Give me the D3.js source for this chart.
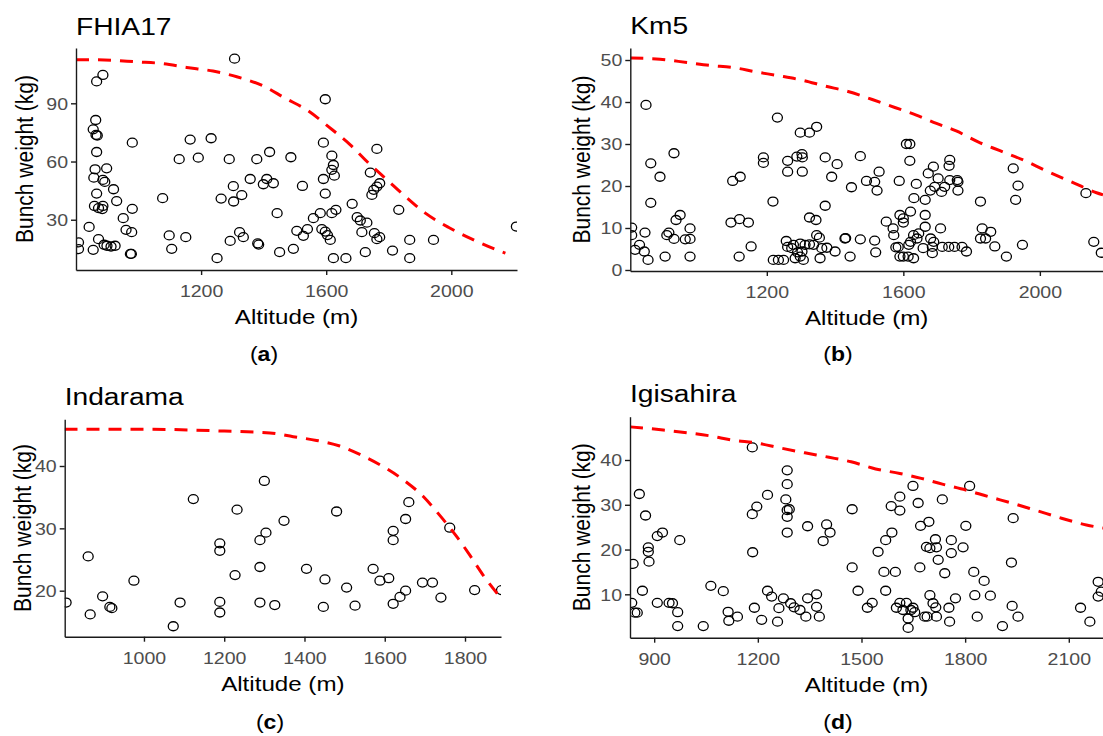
<!DOCTYPE html>
<html><head>
<meta charset="utf-8">
<script src="https://cdnjs.cloudflare.com/ajax/libs/d3/7.8.5/d3.min.js"></script>
<style>
  body { margin: 0; background: #fff; }
  svg text { font-family: "Liberation Sans", Arial, sans-serif; fill: #000; }
  .tick text { fill: #4d4d4d; font-size: 17px; }
  .tick line, .domain { stroke: #1a1a1a; stroke-width: 1.4px; }
</style>
</head><body>
<svg id="chart" width="1103" height="736"></svg>
<script>
// [altitude (m), bunch weight (kg)]
var fhia17Points = [[1307,113.0],[886,104.6],[866,101.3],[863,81.4],[855,76.6],[864,73.7],[868,73.4],[866,64.9],[861,56.0],[898,56.5],[857,51.7],[886,50.5],[892,49.5],[866,43.5],[920,45.7],[859,37.1],[872,36.0],[886,37.1],[884,35.5],[930,39.6],[980,69.7],[980,35.6],[951,30.8],[960,24.8],[978,23.6],[842,26.3],[808,18.3],[808,14.9],[855,14.5],[872,20.0],[890,17.1],[899,16.6],[912,16.2],[925,16.6],[974,12.4],[977,12.4],[1077,41.1],[1098,21.9],[1106,15.0],[1151,21.0],[1130,61.2],[1165,71.3],[1191,62.0],[1232,72.0],[1251,10.2],[1264,40.9],[1290,61.2],[1303,47.3],[1304,39.4],[1330,42.7],[1293,19.1],[1323,23.6],[1335,21.0],[1357,51.0],[1378,61.2],[1419,64.9],[1399,48.3],[1410,51.0],[1431,48.8],[1381,17.8],[1384,17.2],[1451,13.3],[1443,33.4],[1487,62.2],[1495,15.0],[1506,24.3],[1524,47.4],[1527,21.7],[1540,25.2],[1559,30.8],[1581,33.4],[1591,69.7],[1597,92.1],[1591,51.0],[1597,43.5],[1586,25.2],[1597,23.9],[1604,22.1],[1613,19.6],[1618,33.4],[1631,35.1],[1618,63.0],[1623,58.2],[1618,55.7],[1626,52.7],[1623,10.2],[1663,10.2],[1683,38.2],[1699,31.3],[1709,29.6],[1730,28.5],[1714,23.6],[1725,13.3],[1762,66.5],[1741,54.3],[1752,45.4],[1762,47.1],[1771,48.8],[1746,42.8],[1754,23.1],[1762,20.0],[1771,21.0],[1812,14.1],[1832,35.1],[1867,19.6],[1867,10.2],[1943,19.6],[2208,26.5]];
var fhia17Curve = [[800,112.4],[870,112.4],[1000,111.3],[1069,110.6],[1154,108.5],[1238,106.6],[1314,103.7],[1399,98.9],[1469,92.6],[1538,86.6],[1607,78.0],[1677,68.6],[1736,59.1],[1795,50.5],[1853,42.0],[1917,33.4],[1992,26.0],[2066,20.0],[2151,14.1],[2173,12.8]];

var km5Points = [[804,10.1],[804,8.3],[814,4.8],[827,6.0],[841,4.4],[852,2.4],[846,39.3],[843,8.9],[860,25.4],[860,16.0],[887,22.2],[902,3.2],[907,8.3],[913,8.9],[928,27.8],[928,7.4],[934,11.9],[946,13.1],[961,7.3],[975,9.9],[975,7.4],[975,3.2],[1095,11.3],[1100,21.2],[1122,22.2],[1120,12.1],[1119,3.2],[1146,11.3],[1154,5.6],[1190,26.8],[1190,25.5],[1218,16.3],[1231,36.3],[1219,2.4],[1234,2.4],[1249,2.4],[1257,6.9],[1261,5.5],[1273,5.2],[1278,6.0],[1261,26.0],[1261,23.4],[1298,32.7],[1325,32.7],[1346,34.1],[1288,27.0],[1303,27.6],[1304,26.8],[1304,23.4],[1325,12.5],[1344,11.9],[1371,26.8],[1390,22.2],[1371,15.3],[1346,8.3],[1354,7.7],[1298,6.3],[1312,6.0],[1325,6.1],[1337,6.0],[1361,5.2],[1376,5.3],[1290,4.2],[1303,4.4],[1298,3.2],[1283,2.8],[1307,2.4],[1356,2.8],[1400,4.4],[1406,25.2],[1429,7.5],[1431,7.6],[1444,3.2],[1448,19.7],[1474,27.1],[1474,7.3],[1492,21.2],[1516,21.0],[1523,18.9],[1529,23.4],[1516,7.0],[1519,4.2],[1550,11.5],[1570,9.9],[1572,8.3],[1588,21.2],[1590,13.1],[1600,12.3],[1621,13.9],[1600,11.3],[1578,5.4],[1585,5.5],[1590,3.2],[1600,3.2],[1614,3.2],[1630,2.8],[1609,30.0],[1619,30.0],[1619,26.0],[1630,8.3],[1645,8.7],[1640,7.5],[1621,6.7],[1616,6.0],[1638,20.5],[1631,17.1],[1664,16.7],[1664,13.1],[1664,10.3],[1658,5.2],[1673,23.0],[1688,24.6],[1702,21.8],[1692,19.8],[1679,18.9],[1712,18.6],[1721,19.8],[1680,7.5],[1689,6.7],[1685,5.5],[1685,4.0],[1709,9.9],[1714,5.5],[1733,5.5],[1750,5.5],[1772,5.5],[1785,4.4],[1736,26.2],[1734,24.8],[1736,21.4],[1758,21.4],[1760,21.0],[1760,18.9],[1826,16.3],[1831,9.9],[1826,7.5],[1841,7.5],[1856,9.1],[1868,5.6],[1902,3.2],[1922,24.2],[1936,20.1],[1929,16.7],[1949,6.0],[2135,18.3],[2158,6.7],[2180,4.1]];
var km5Curve = [[800,50.5],[887,50.2],[966,49.4],[1034,48.7],[1102,48.2],[1166,47.2],[1239,46.2],[1303,45.2],[1370,43.8],[1438,42.5],[1509,40.6],[1575,38.7],[1638,36.9],[1697,34.9],[1755,33.1],[1819,30.5],[1883,28.4],[1951,26.2],[2019,23.6],[2092,21.0],[2166,18.4],[2185,17.9]];

var indaramaPoints = [[806,18.1],[861,25.5],[866,16.2],[897,19.1],[915,17.4],[920,17.2],[975,21.6],[1073,14.3],[1090,18.1],[1123,34.7],[1189,27.6],[1189,26.4],[1189,18.2],[1189,16.5],[1227,22.5],[1232,33.0],[1289,23.8],[1289,28.1],[1304,29.3],[1300,37.6],[1289,18.1],[1326,17.7],[1349,31.2],[1405,23.5],[1451,21.8],[1447,17.4],[1480,32.7],[1505,20.5],[1526,17.6],[1571,23.5],[1588,21.6],[1610,22.0],[1621,29.6],[1621,28.1],[1621,17.9],[1638,19.0],[1652,20.0],[1652,31.5],[1660,34.2],[1694,21.3],[1719,21.3],[1740,18.9],[1762,30.1],[1824,20.1],[1891,20.1]];
var indaramaCurve = [[802,45.9],[1000,45.9],[1200,45.6],[1314,45.3],[1372,44.7],[1430,44.1],[1488,43.2],[1546,41.6],[1596,39.9],[1646,37.8],[1696,35.1],[1733,32.4],[1779,28.7],[1812,25.7],[1845,22.5],[1887,19.0]];

var igisahiraPoints = [[839,16.8],[835,8.1],[844,5.9],[851,5.9],[857,32.4],[875,27.6],[866,10.8],[883,20.5],[883,19.5],[885,17.3],[909,23.0],[924,23.8],[909,8.1],[943,8.1],[953,8.0],[974,22.1],[968,6.0],[968,2.9],[1042,2.9],[1064,11.9],[1100,10.7],[1114,6.1],[1116,4.1],[1141,5.0],[1184,42.8],[1184,27.9],[1197,29.6],[1185,19.4],[1190,7.0],[1211,4.3],[1228,32.2],[1228,10.8],[1240,9.5],[1257,3.9],[1261,6.9],[1274,9.1],[1285,37.7],[1285,34.6],[1281,31.2],[1285,28.8],[1285,27.3],[1291,29.0],[1285,23.8],[1295,8.0],[1305,7.1],[1322,6.5],[1339,5.0],[1344,25.2],[1344,9.1],[1370,10.0],[1370,7.2],[1378,5.0],[1389,21.9],[1399,25.6],[1409,23.8],[1473,29.0],[1473,16.0],[1490,10.8],[1517,7.0],[1531,8.1],[1548,19.5],[1570,22.1],[1588,23.8],[1565,15.0],[1570,10.8],[1586,29.7],[1611,31.8],[1611,28.7],[1598,15.0],[1601,7.0],[1611,8.1],[1620,6.5],[1630,8.1],[1635,4.6],[1643,6.5],[1649,7.0],[1654,6.0],[1635,2.5],[1649,34.2],[1664,30.4],[1669,16.0],[1671,25.3],[1695,26.2],[1688,20.6],[1714,22.3],[1698,20.3],[1717,20.5],[1722,17.7],[1741,14.7],[1734,31.2],[1698,9.8],[1707,8.0],[1715,7.1],[1683,5.0],[1690,5.0],[1717,5.0],[1760,22.1],[1760,19.2],[1753,7.0],[1755,3.9],[1772,9.1],[1794,20.5],[1802,25.3],[1813,34.2],[1825,15.0],[1828,9.8],[1835,5.0],[1855,13.0],[1873,9.7],[1908,2.9],[1934,17.1],[1939,27.0],[1936,7.4],[1953,5.0],[2134,7.0],[2161,3.9],[2185,12.8],[2185,9.5],[2194,10.6]];
var igisahiraCurve = [[830,47.4],[926,46.7],[994,46.1],[1061,45.4],[1129,44.4],[1197,43.8],[1264,42.7],[1336,41.6],[1406,40.6],[1470,39.6],[1541,38.0],[1611,37.0],[1673,35.9],[1734,34.6],[1802,33.3],[1868,31.8],[1939,30.3],[2011,28.6],[2079,27.0],[2151,25.5],[2199,24.8]];

var ticksA = { x: [1200, 1600, 2000], y: [30, 60, 90] };
var ticksB = { x: [1200, 1600, 2000], y: [0, 10, 20, 30, 40, 50] };
var ticksC = { x: [1000, 1200, 1400, 1600, 1800], y: [20, 30, 40] };
var ticksD = { x: [900, 1200, 1500, 1800, 2100], y: [10, 20, 30, 40] };

var xTitle = "Altitude (m)", yTitle = "Bunch weight (kg)";

// the source figure was stretched sideways, so text is widened the same way
var SX = 1.15;

var panels = [
  { name: "FHIA17", letter: "a", pts: fhia17Points, curve: fhia17Curve, ticks: ticksA,
    left: 76, right: 517, top: 48, bottom: 270, xd: [800, 2210], yd: [4.1, 118.5],
    titleY: 34.5, yTitleX: 33, capX: 264, capY: 361 },
  { name: "Km5", letter: "b", pts: km5Points, curve: km5Curve, ticks: ticksB,
    left: 630.3, right: 1103, top: 48, bottom: 271, xd: [800, 2185], yd: [-0.24, 52.86],
    titleY: 33.5, yTitleX: 590, capX: 838, capY: 361 },
  { name: "Indarama", letter: "c", pts: indaramaPoints, curve: indaramaCurve, ticks: ticksC,
    left: 64.7, right: 501, top: 419.3, bottom: 636.7, xd: [802.5, 1889.7], yd: [12.62, 47.49],
    titleY: 405, yTitleX: 31, capX: 270, capY: 729 },
  { name: "Igisahira", letter: "d", pts: igisahiraPoints, curve: igisahiraCurve, ticks: ticksD,
    left: 630, right: 1103, top: 416.7, bottom: 637.7, xd: [830, 2199], yd: [0.31, 49.67],
    titleY: 402, yTitleX: 590, capX: 838, capY: 729 }
];

var svg = d3.select("#chart");

function label(parent, x, y, str, size, anchor, rot) {
  return parent.append("text")
    .attr("transform", "translate(" + x + "," + y + ") scale(" + SX + ",1)" + (rot ? " rotate(-90)" : ""))
    .attr("text-anchor", anchor)
    .style("font-size", size + "px")
    .text(str);
}

panels.forEach(function(p, i) {
  var x = d3.scaleLinear().domain(p.xd).range([p.left, p.right]);
  var y = d3.scaleLinear().domain(p.yd).range([p.bottom, p.top]);
  var g = svg.append("g");

  g.append("clipPath").attr("id", "clip" + i)
    .append("rect").attr("x", p.left).attr("y", p.top)
    .attr("width", p.right - p.left).attr("height", p.bottom - p.top);
  var plot = g.append("g").attr("clip-path", "url(#clip" + i + ")");

  plot.selectAll("ellipse").data(p.pts).enter().append("ellipse")
    .attr("cx", function(d) { return x(d[0]); })
    .attr("cy", function(d) { return y(d[1]); })
    .attr("rx", 5.0).attr("ry", 4.5)
    .attr("fill", "none").attr("stroke", "#000").attr("stroke-width", 1.3);

  var line = d3.line()
    .x(function(d) { return x(d[0]); })
    .y(function(d) { return y(d[1]); })
    .curve(d3.curveMonotoneX);
  plot.append("path").datum(p.curve).attr("d", line)
    .attr("fill", "none").attr("stroke", "#ff0000").attr("stroke-width", 3)
    .attr("stroke-dasharray", "13,9");

  var xa = g.append("g").attr("transform", "translate(0," + p.bottom + ")")
    .call(d3.axisBottom(x).tickValues(p.ticks.x).tickSize(5).tickSizeOuter(0).tickFormat(d3.format("d")));
  xa.selectAll(".tick text").attr("y", 27).attr("dy", null)
    .attr("transform", "scale(" + SX + ",1)");

  var ya = g.append("g").attr("transform", "translate(" + p.left + ",0)")
    .call(d3.axisLeft(y).tickValues(p.ticks.y).tickSize(5).tickSizeOuter(0).tickFormat(d3.format("d")));
  ya.selectAll(".tick text").attr("x", -8 / SX).attr("dy", "0.35em")
    .attr("transform", "scale(" + SX + ",1)");
  [xa, ya].forEach(function(a) { a.attr("font-family", null).attr("font-size", null); });

  label(g, p.left, p.titleY, p.name, 24.5, "start");
  label(g, (p.left + Math.min(p.right, 1103)) / 2, p.bottom + 54, xTitle, 21, "middle");
  label(g, p.yTitleX, (p.top + p.bottom) / 2, yTitle, 21, "middle", true);

  var cap = label(g, p.capX, p.capY, "", 20, "middle");
  cap.append("tspan").text("(");
  cap.append("tspan").style("font-weight", "bold").text(p.letter);
  cap.append("tspan").text(")");
});
</script>
</body></html>
